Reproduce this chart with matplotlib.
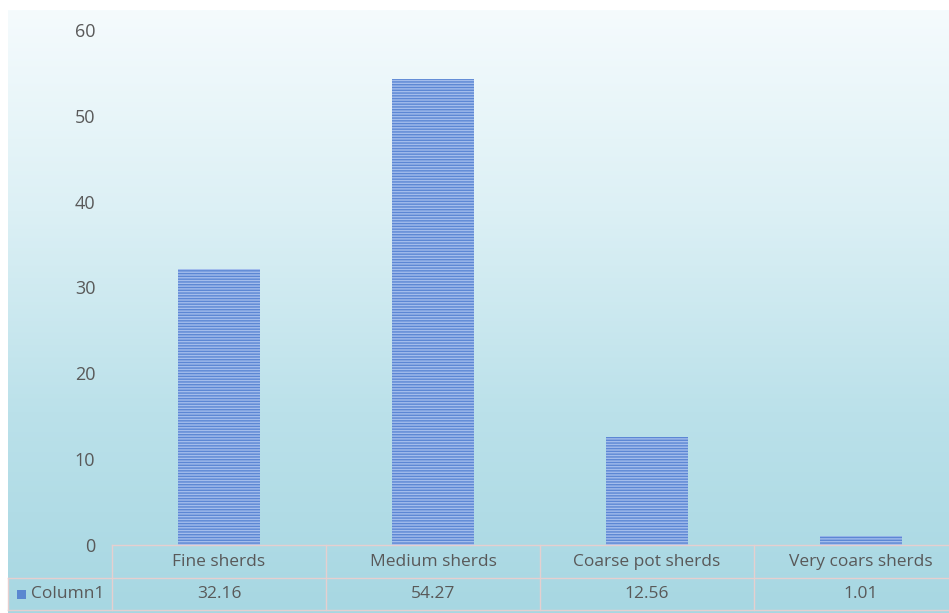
import numpy as np
import matplotlib
matplotlib.use("Agg")
import matplotlib.pyplot as plt
import matplotlib.transforms as mtransforms
from matplotlib.colors import LinearSegmentedColormap

categories = ["Fine sherds", "Medium sherds", "Coarse pot sherds", "Very coars sherds"]
values = [32.16, 54.27, 12.56, 1.01]
value_labels = ["32.16", "54.27", "12.56", "1.01"]
series_name = "Column1"
yticks = [0, 10, 20, 30, 40, 50, 60]

W, H = 949, 613
fig = plt.figure(figsize=(W / 100, H / 100), dpi=100)
fig.patch.set_facecolor("white")

# gradient background panel
bg = fig.add_axes([8 / W, 0, 1 - 8 / W, 1 - 10 / H], zorder=0)
grad = np.linspace(0, 1, 256).reshape(-1, 1)
cmap = LinearSegmentedColormap.from_list("bg", ["#f5fbfd", "#dcf0f5", "#bbe1ea", "#a7d7e2"])
bg.imshow(grad, aspect="auto", cmap=cmap, extent=[0, 1, 0, 1], origin="upper")
bg.axis("off")

# plot axes: x from 112px to 968px (extends past the image), y0 at 545px, y60 at 30px
left = 112 / W
right = 968 / W
bottom = (H - 545) / H
top = (H - 30) / H
ax = fig.add_axes([left, bottom, right - left, top - bottom], zorder=1)
ax.patch.set_alpha(0)
x = np.arange(len(categories))
matplotlib.rcParams["hatch.linewidth"] = 1.0
bars = ax.bar(x, values, width=0.38, color="#a3bdec", hatch="------",
              linewidth=0)
for b in bars:
    b.set_edgecolor("#5c87d4")
ax.set_xlim(-0.5, len(categories) - 0.5)
ax.set_ylim(0, 60)
ax.set_yticks(yticks)
ax.set_yticklabels([str(t) for t in yticks], fontsize=13, color="#595959",
                   family="Open Sans")
ax.tick_params(axis="y", length=0, pad=12)
ax.set_xticks([])
for s in ax.spines.values():
    s.set_visible(False)

# data table below the axes
tr = mtransforms.blended_transform_factory(ax.transData, fig.transFigure)
fy = lambda py: (H - py) / H
line_c = "#e6cfcf"
ax_l = -0.5
ax_r = len(categories) - 0.5
fig.add_artist(plt.Line2D([ax_l, ax_r], [fy(545), fy(545)], transform=tr, color=line_c, lw=1))
fig.add_artist(plt.Line2D([8 / W, 1], [fy(578), fy(578)], transform=fig.transFigure, color=line_c, lw=1))
fig.add_artist(plt.Line2D([8 / W, 1], [fy(610), fy(610)], transform=fig.transFigure, color=line_c, lw=1))
for i in range(len(categories) + 1):
    xv = -0.5 + i
    fig.add_artist(plt.Line2D([xv, xv], [fy(545), fy(610)], transform=tr, color=line_c, lw=1))
fig.add_artist(plt.Line2D([8 / W, 8 / W], [fy(578), fy(610)], transform=fig.transFigure, color=line_c, lw=1))

for i, (c, v) in enumerate(zip(categories, value_labels)):
    fig.text(i, fy(562), c, transform=tr, ha="center", va="center",
             fontsize=12.5, color="#595959", family="Open Sans")
    fig.text(i, fy(594), v, transform=tr, ha="center", va="center",
             fontsize=12.5, color="#595959", family="Open Sans")

# legend key + row label
fig.add_artist(plt.Rectangle((17 / W, fy(599)), 9 / W, 9 / H, transform=fig.transFigure,
                             facecolor="#5b87d0", edgecolor="none"))
fig.text(31 / W, fy(594), series_name, ha="left", va="center", fontsize=12.5,
         color="#595959", family="Open Sans")

fig.savefig("out.png", dpi=100)
